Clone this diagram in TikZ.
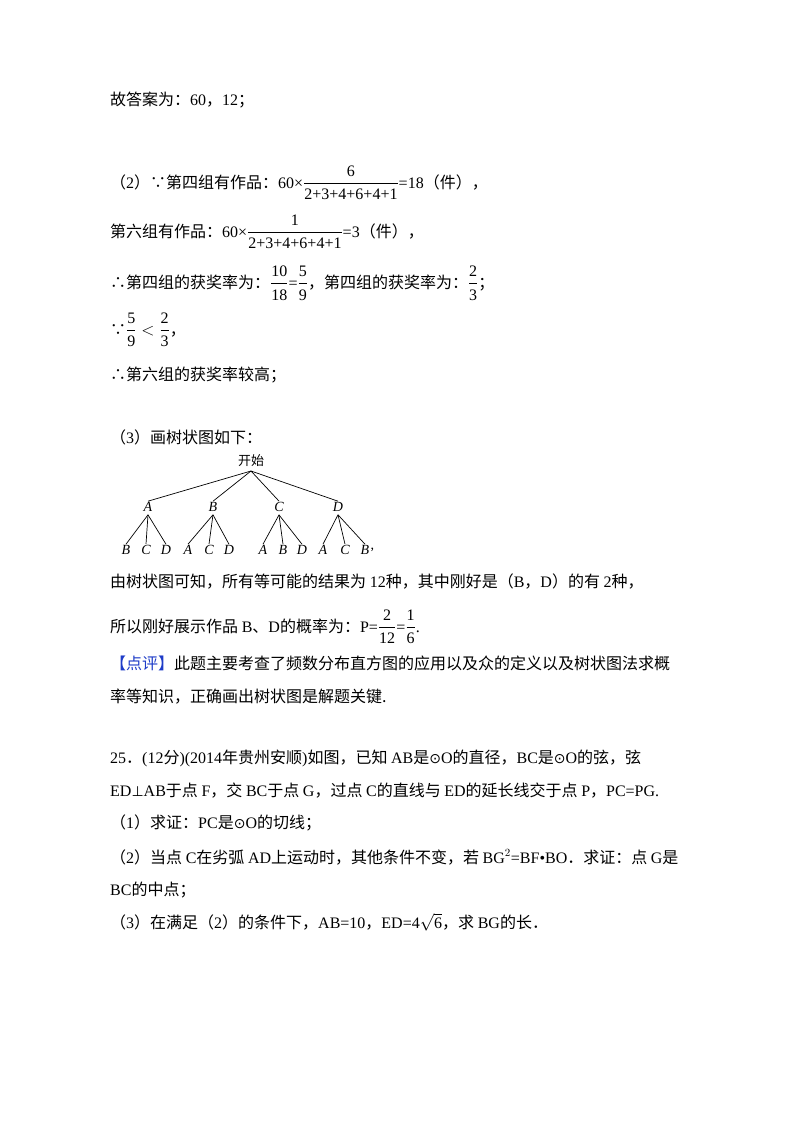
\documentclass[tikz,border=0pt]{standalone}
\usepackage{fontspec}
\setmainfont{Liberation Serif}
\newfontfamily\cjk{Noto Sans CJK SC}
\newfontfamily\djvsym{DejaVu Sans}
\usepackage{amsmath}
\newcommand{\odt}{{\djvsym\fontsize{14}{16}\selectfont ⊙}}
\newcommand{\perpx}{{\djvsym\fontsize{14}{16}\selectfont ⊥}}
\begin{document}
\begin{tikzpicture}[x=1pt,y=-1pt,
  txt/.style={anchor=west,inner sep=0pt,font=\fontsize{16}{19}\selectfont},
  lbl/.style={inner sep=1pt,font=\fontsize{14}{16}\selectfont\itshape},
  edge/.style={line width=0.7pt}]
\useasboundingbox (0,0) rectangle (800,1132);
\fill[white] (0,0) rectangle (800,1132);
\node[txt] (l1) at (110,100) {\cjk 故答案为：\rmfamily 60\cjk ，\rmfamily 12\cjk ；};
\node[txt] (l2) at (110,183) {\cjk （\rmfamily 2\cjk ）∵第四组有作品：\rmfamily 60×$\dfrac{\text{6}}{\text{2+3+4+6+4+1}}$=18\cjk （件），};
\node[txt] (l3) at (110,232) {\cjk 第六组有作品：\rmfamily 60×$\dfrac{\text{1}}{\text{2+3+4+6+4+1}}$=3\cjk （件），};
\node[txt] (l4) at (110,283) {\cjk ∴第四组的获奖率为：\rmfamily $\dfrac{\text{10}}{\text{18}}$=$\dfrac{\text{5}}{\text{9}}$\cjk ，第四组的获奖率为：\rmfamily $\dfrac{\text{2}}{\text{3}}$\cjk ；};
\node[txt] (l5) at (110,330) {\cjk ∵\rmfamily $\dfrac{\text{5}}{\text{9}}<\dfrac{\text{2}}{\text{3}}$\cjk ，};
\node[txt] (l6) at (110,375) {\cjk ∴第六组的获奖率较高；};
\node[txt] (l7) at (110,437) {\cjk （\rmfamily 3\cjk ）画树状图如下：};
% tree
\node[inner sep=1pt,font=\fontsize{13}{15}\selectfont\cjk] (s) at (251,461) {开始};
\foreach \n/\x in {A/148,B/213,C/279,D/338}{\node[lbl] (\n) at (\x,507) {\n};
  \draw[edge] (251,471) -- (\n.north);}
\foreach \p/\i/\n/\x in {A/1/B/126,A/2/C/146,A/3/D/166,B/1/A/188,B/2/C/209,B/3/D/229,C/1/A/263,C/2/B/283,C/3/D/302,D/1/A/323,D/2/C/345,D/3/B/365}{
  \node[lbl] (\p\i) at (\x,550) {\n};
  \draw[edge] (\p.south) ++(0,2) -- (\p\i.north);}
\node[anchor=west,inner sep=0pt,font=\fontsize{14}{16}\selectfont] at (D3.east) {,};
\node[txt] (l8) at (110,582) {\cjk 由树状图可知，所有等可能的结果为 \rmfamily 12\cjk 种，其中刚好是（\rmfamily B\cjk ，\rmfamily D\cjk ）的有 \rmfamily 2\cjk 种，};
\node[txt] (l9) at (110,627) {\cjk 所以刚好展示作品 \rmfamily B\cjk 、\rmfamily D\cjk 的概率为：\rmfamily P=$\dfrac{\text{2}}{\text{12}}$=$\dfrac{\text{1}}{\text{6}}$.};
\node[txt] (l10) at (110,663) {\cjk\color[RGB]{30,60,200}【点评】\color{black}此题主要考查了频数分布直方图的应用以及众的定义以及树状图法求概};
\node[txt] (l11) at (110,697) {\cjk 率等知识，正确画出树状图是解题关键.};
\node[txt] (l12) at (110,758) {\rmfamily 25\cjk ．\rmfamily (12\cjk 分\rmfamily )(2014\cjk 年贵州安顺\rmfamily )\cjk 如图，已知 \rmfamily AB\cjk 是\odt\rmfamily O\cjk 的直径，\rmfamily BC\cjk 是\odt\rmfamily O\cjk 的弦，弦};
\node[txt] (l13) at (110,791) {\rmfamily ED\perpx AB\cjk 于点 \rmfamily F\cjk ，交 \rmfamily BC\cjk 于点 \rmfamily G\cjk ，过点 \rmfamily C\cjk 的直线与 \rmfamily ED\cjk 的延长线交于点 \rmfamily P\cjk ，\rmfamily PC=PG.};
\node[txt] (l14) at (110,823) {\cjk （\rmfamily 1\cjk ）求证：\rmfamily PC\cjk 是\odt\rmfamily O\cjk 的切线；};
\node[txt] (l15) at (110,857) {\cjk （\rmfamily 2\cjk ）当点 \rmfamily C\cjk 在劣弧 \rmfamily AD\cjk 上运动时，其他条件不变，若 \rmfamily BG$^2$=BF•BO\cjk ．求证：点 \rmfamily G\cjk 是};
\node[txt] (l16) at (110,890) {\rmfamily BC\cjk 的中点；};
\node[txt] (l17) at (110,922) {\cjk （\rmfamily 3\cjk ）在满足（\rmfamily 2\cjk ）的条件下，\rmfamily AB=10\cjk ，\rmfamily ED=4$\sqrt{\text{6}}$\cjk ，求 \rmfamily BG\cjk 的长．};
\end{tikzpicture}
\end{document}
